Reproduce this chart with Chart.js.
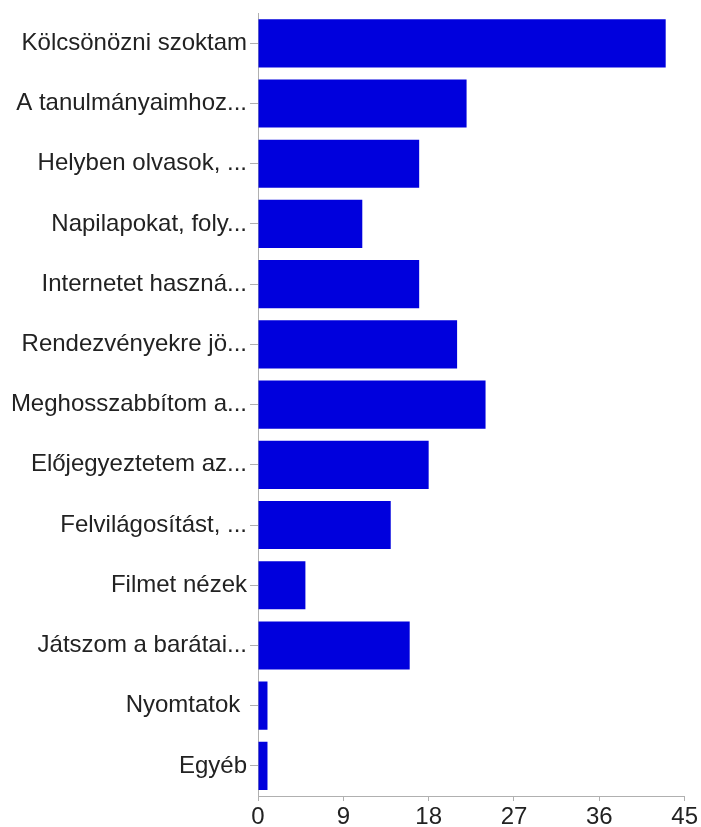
<!DOCTYPE html>
<html>
<head>
<meta charset="utf-8">
<script src="https://cdn.jsdelivr.net/npm/chart.js@4/dist/chart.umd.min.js"></script>
<style>
html,body{margin:0;padding:0;background:#fff;}
#wrap{width:701px;height:827px;position:relative;}
</style>
</head>
<body>
<div id="wrap"><canvas id="c" width="701" height="827"></canvas></div>
<script>
const categories = [
  "Kölcsönözni szoktam",
  "A tanulmányaimhoz...",
  "Helyben olvasok, ...",
  "Napilapokat, foly...",
  "Internetet haszná...",
  "Rendezvényekre jö...",
  "Meghosszabbítom a...",
  "Előjegyeztetem az...",
  "Felvilágosítást, ...",
  "Filmet nézek",
  "Játszom a barátai...",
  "Nyomtatok ",
  "Egyéb"
];
const counts = [43, 22, 17, 11, 17, 21, 24, 18, 14, 5, 16, 1, 1];
const xTicks = [0, 9, 18, 27, 36, 45];

const xFont = {family: "'Liberation Sans', Arial, sans-serif", size: 24, lineHeight: 1.08};
const yFont = {family: "'Liberation Sans', Arial, sans-serif", size: 24, lineHeight: 0.85};
new Chart(document.getElementById('c'), {
  type: 'bar',
  data: {
    labels: categories,
    datasets: [{
      data: counts,
      backgroundColor: '#0000dd',
      borderWidth: 0,
      categoryPercentage: 0.8,
      barPercentage: 1.0
    }]
  },
  options: {
    indexAxis: 'y',
    responsive: false,
    animation: false,
    layout: {padding: {top: 0, right: 16, left: 0, bottom: 0}},
    plugins: {legend: {display: false}, tooltip: {enabled: false}},
    scales: {
      x: {
        min: 0, max: 45,
        afterBuildTicks: (s) => { s.ticks = xTicks.map(v => ({value: v})); },
        afterFit: (s) => { s.height = 31; },
        grid: {display: true, drawOnChartArea: false, drawTicks: true, tickLength: 5, color: '#b0b0b0', lineWidth: 1},
        border: {display: true, color: '#b0b0b0', width: 1},
        ticks: {font: xFont, color: '#222', padding: 3, maxRotation: 0, autoSkip: false}
      },
      y: {
        afterFit: (s) => { s.width = 258; },
        grid: {display: true, offset: false, drawOnChartArea: false, drawTicks: true, tickLength: 8, color: '#b0b0b0', lineWidth: 1},
        border: {display: true, color: '#b0b0b0', width: 1},
        ticks: {font: yFont, color: '#222', padding: 3, autoSkip: false}
      }
    }
  }
});
</script>
</body>
</html>
